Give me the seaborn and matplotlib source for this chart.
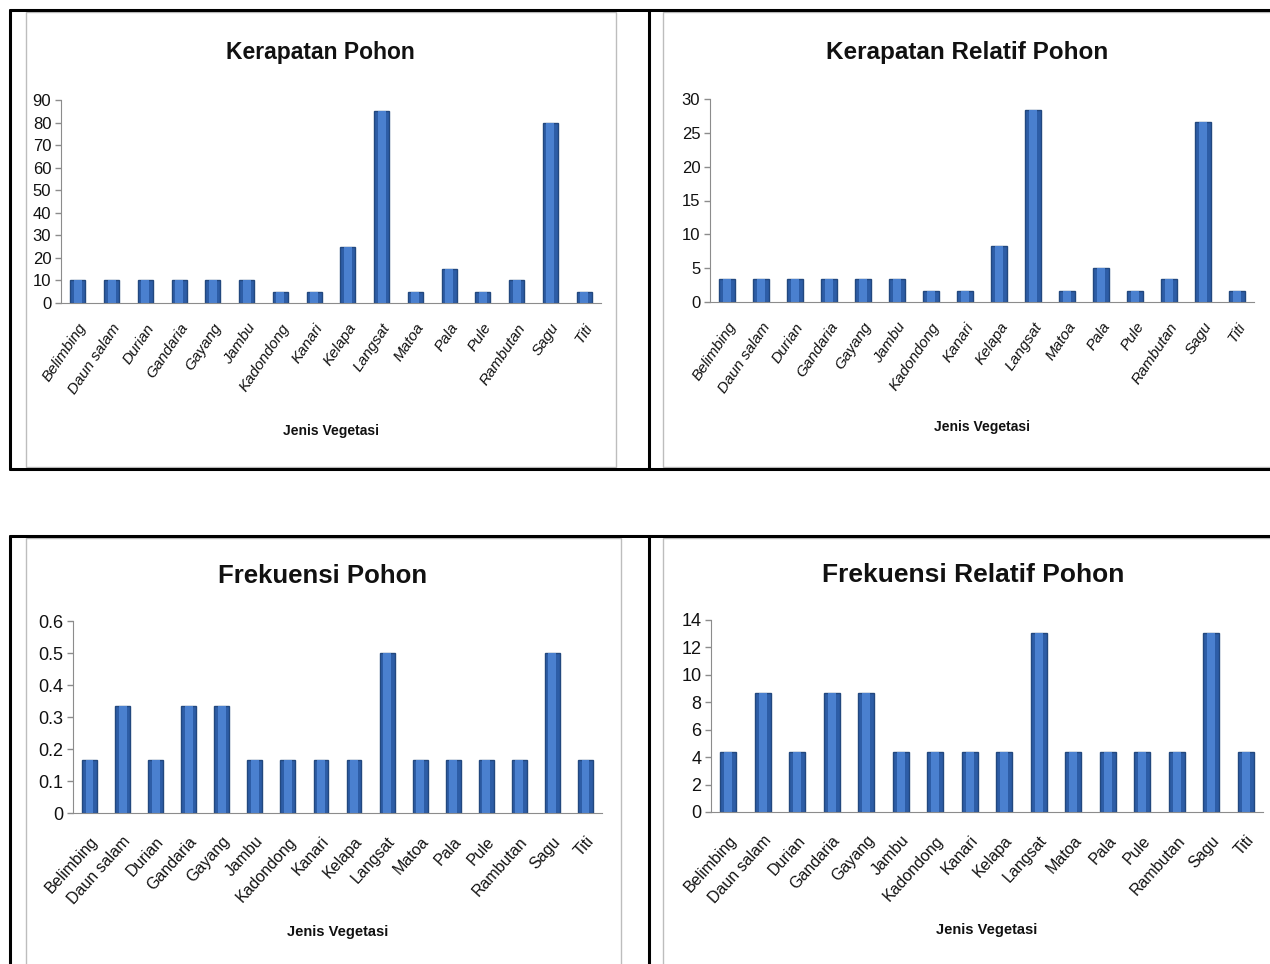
import matplotlib
matplotlib.use('Agg')
import matplotlib.pyplot as plt
import seaborn as sns
import pandas as pd
from matplotlib.lines import Line2D
from matplotlib.patches import Rectangle

jenis = ['Belimbing', 'Daun salam', 'Durian', 'Gandaria', 'Gayang', 'Jambu',
         'Kadondong', 'Kanari', 'Kelapa', 'Langsat', 'Matoa', 'Pala', 'Pule',
         'Rambutan', 'Sagu', 'Titi']

kerapatan = [10, 10, 10, 10, 10, 10, 5, 5, 25, 85, 5, 15, 5, 10, 80, 5]
kerapatan_relatif = [3.33, 3.33, 3.33, 3.33, 3.33, 3.33, 1.67, 1.67, 8.33,
                     28.33, 1.67, 5.0, 1.67, 3.33, 26.67, 1.67]
frekuensi = [0.167, 0.333, 0.167, 0.333, 0.333, 0.167, 0.167, 0.167, 0.167,
             0.5, 0.167, 0.167, 0.167, 0.167, 0.5, 0.167]
frekuensi_relatif = [4.35, 8.7, 4.35, 8.7, 8.7, 4.35, 4.35, 4.35, 4.35,
                     13.04, 4.35, 4.35, 4.35, 4.35, 13.04, 4.35]

sns.set_style('white')
plt.rcParams['font.family'] = ['Liberation Sans', 'DejaVu Sans']

W, H = 1270, 964
fig = plt.figure(figsize=(W / 100, H / 100), dpi=100)


def fx(x):
    return x / W


def fy(y):
    return 1 - y / H


# table borders
for (x0, y0, x1, y1) in [(10, 10, 1270, 10), (10, 469, 1270, 469), (10, 536, 1270, 536),
                         (10, 10, 10, 469), (649, 10, 649, 469),
                         (10, 536, 10, 964), (649, 536, 649, 964)]:
    fig.add_artist(Line2D([fx(x0), fx(x1)], [fy(y0), fy(y1)], color='black', lw=2.2))

# chart area frames
for (x0, y0, x1, y1) in [(26, 12, 616, 467), (663, 12, 1275, 467),
                         (26, 538, 621, 970), (663, 538, 1275, 970)]:
    fig.add_artist(Rectangle((fx(x0), fy(y1)), fx(x1 - x0), (y1 - y0) / H,
                             fill=False, edgecolor='#BDBDBD', lw=1.0))

panels = [
    # values, title, ticks, ymax, axes px (x0, x1, ytop, y0), title pos, title size,
    # tick size, italic, label rotation, label pad, xlabel y, xlabel size
    (kerapatan, 'Kerapatan Pohon', range(0, 91, 10), 90, (61, 601, 100, 303),
     (320, 52), 16.5, 12, True, 56, 13, 431, 10),
    (kerapatan_relatif, 'Kerapatan Relatif Pohon', range(0, 31, 5), 30, (710, 1254, 99, 302),
     (967, 52), 17.5, 12, True, 56, 13, 427, 10),
    (frekuensi, 'Frekuensi Pohon', [0, 0.1, 0.2, 0.3, 0.4, 0.5, 0.6], 0.6, (73, 602, 621, 813),
     (323, 576), 18.5, 13, False, 48, 15, 932, 10.5),
    (frekuensi_relatif, 'Frekuensi Relatif Pohon', range(0, 15, 2), 14, (711, 1263, 620, 812),
     (973, 575), 19, 13, False, 48, 15, 930, 10.5),
]

for (vals, title, ticks, ymax, (x0, x1, yt, yb), (tx, ty), tsize, ksize,
     italic, rot, pad, xly, xls) in panels:
    ax = fig.add_axes([fx(x0), fy(yb), (x1 - x0) / W, (yb - yt) / H])
    df = pd.DataFrame({'Jenis': jenis, 'Nilai': vals})
    sns.barplot(data=df, x='Jenis', y='Nilai', color='#2D5DA6', width=0.45,
                edgecolor='#22487F', linewidth=1.0, saturation=1, ax=ax)
    # lighter core to mimic the shaded bars
    sns.barplot(data=df, x='Jenis', y='Nilai', color='#4A80CF', width=0.24,
                linewidth=0, saturation=1, ax=ax)
    ax.set_ylim(0, ymax)
    ax.set_xlim(-0.5, len(jenis) - 0.5)
    ax.set_yticks(list(ticks))
    ax.set_yticklabels([('%g' % t) for t in ticks], fontsize=ksize, color='#111111')
    ax.set_xticks(range(len(jenis)))
    ax.set_xticklabels(jenis, rotation=rot, ha='right', rotation_mode='anchor',
                       fontsize=11 if italic else 11.5,
                       style='italic' if italic else 'normal', color='#111111')
    ax.tick_params(axis='y', length=4, width=1, color='#8C8C8C', left=True, pad=3)
    ax.tick_params(axis='x', length=0, pad=pad)
    for s in ['top', 'right']:
        ax.spines[s].set_visible(False)
    ax.spines['left'].set_color('#8C8C8C')
    ax.spines['bottom'].set_color('#8C8C8C')
    ax.set_xlabel('')
    ax.set_ylabel('')
    fig.text(fx(tx), fy(ty), title, ha='center', va='center', fontsize=tsize,
             fontweight='bold', color='#111111')
    fig.text(fx((x0 + x1) / 2), fy(xly), 'Jenis Vegetasi', ha='center', va='center',
             fontsize=xls, fontweight='bold', color='#111111')

fig.savefig('out.png', dpi=100)
